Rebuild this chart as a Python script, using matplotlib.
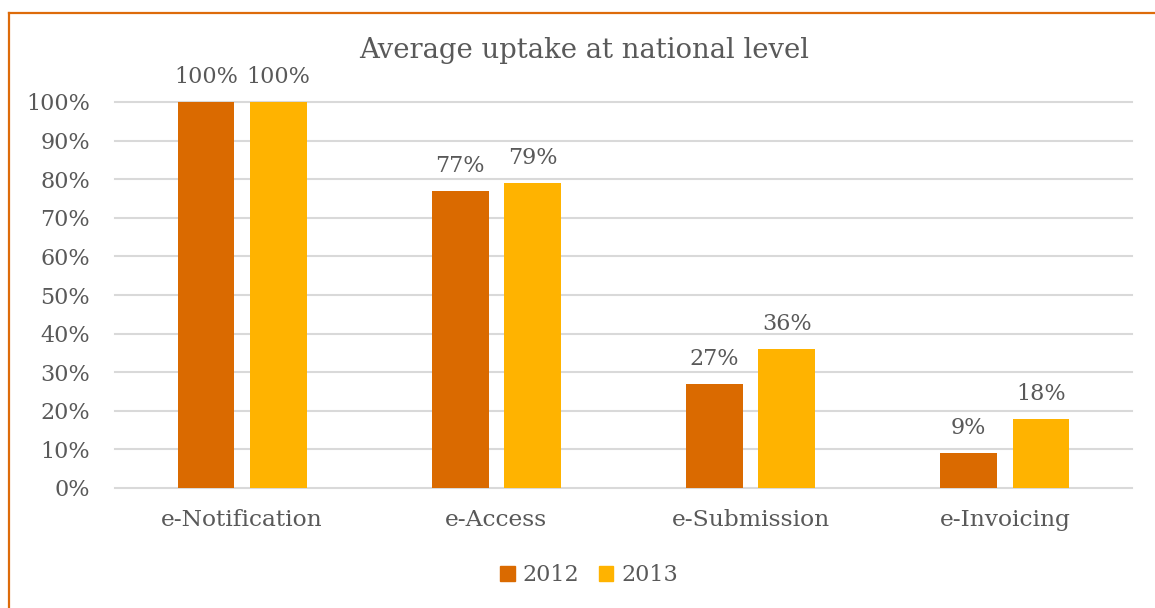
import matplotlib
matplotlib.use("Agg")
import matplotlib.pyplot as plt
from matplotlib.lines import Line2D
from matplotlib.patches import Patch
import numpy as np

categories = ["e-Notification", "e-Access", "e-Submission", "e-Invoicing"]
years = ["2012", "2013"]
uptake_2012 = [100, 77, 27, 9]
uptake_2013 = [100, 79, 36, 18]
yticks = [0, 10, 20, 30, 40, 50, 60, 70, 80, 90, 100]

c2012 = "#DA6A00"
c2013 = "#FFB300"
grey = "#595959"
font = "DejaVu Serif"

W, H = 1155, 608
fig = plt.figure(figsize=(W / 100, H / 100), dpi=100)
ax = fig.add_axes([115 / W, 1 - 488 / H, (1132 - 115) / W, (488 - 102) / H])

x = np.arange(len(categories))
bw = 0.224
off = 0.142
b1 = ax.bar(x - off, uptake_2012, bw, color=c2012, zorder=3)
b2 = ax.bar(x + off, uptake_2013, bw, color=c2013, zorder=3)

for bars, vals in ((b1, uptake_2012), (b2, uptake_2013)):
    for rect, v in zip(bars, vals):
        ax.text(rect.get_x() + rect.get_width() / 2, v + 3.6, f"{v}%",
                ha="center", va="bottom", fontsize=16, color=grey, family=font)

ax.set_xlim(-0.5, 3.5)
ax.set_ylim(0, 100)
ax.set_yticks(yticks)
ax.set_yticklabels([f"{t}%" for t in yticks], family=font, fontsize=16, color=grey)
ax.set_xticks(x)
ax.set_xticklabels(categories, family=font, fontsize=16.8, color=grey)
ax.tick_params(axis="both", length=0)
ax.tick_params(axis="y", pad=18)
ax.tick_params(axis="x", pad=15)
for s in ax.spines.values():
    s.set_visible(False)
ax.yaxis.grid(True, color="#D9D9D9", linewidth=1.5, zorder=0)
ax.set_axisbelow(True)
for gl in ax.get_ygridlines():
    gl.set_clip_on(False)

fig.text(584 / W, 1 - 50 / H, "Average uptake at national level", ha="center", va="center",
         family=font, fontsize=19.8, color=grey)

handles = [Patch(color=c2012), Patch(color=c2013)]
fig.legend(handles, years, loc="center", bbox_to_anchor=(589 / W, 1 - 575 / H),
           ncol=2, frameon=False, handlelength=0.65, handleheight=0.65,
           handletextpad=0.35, columnspacing=0.9,
           prop={"family": font, "size": 16}, labelcolor=grey)

border = "#DD6B0A"
fig.add_artist(Line2D([9 / W, 1.0], [1 - 13 / H, 1 - 13 / H], color=border, lw=1.6,
                      transform=fig.transFigure))
fig.add_artist(Line2D([9 / W, 9 / W], [1 - 13 / H, 0], color=border, lw=1.6,
                      transform=fig.transFigure))

fig.savefig("out.png", dpi=100, facecolor="white")
